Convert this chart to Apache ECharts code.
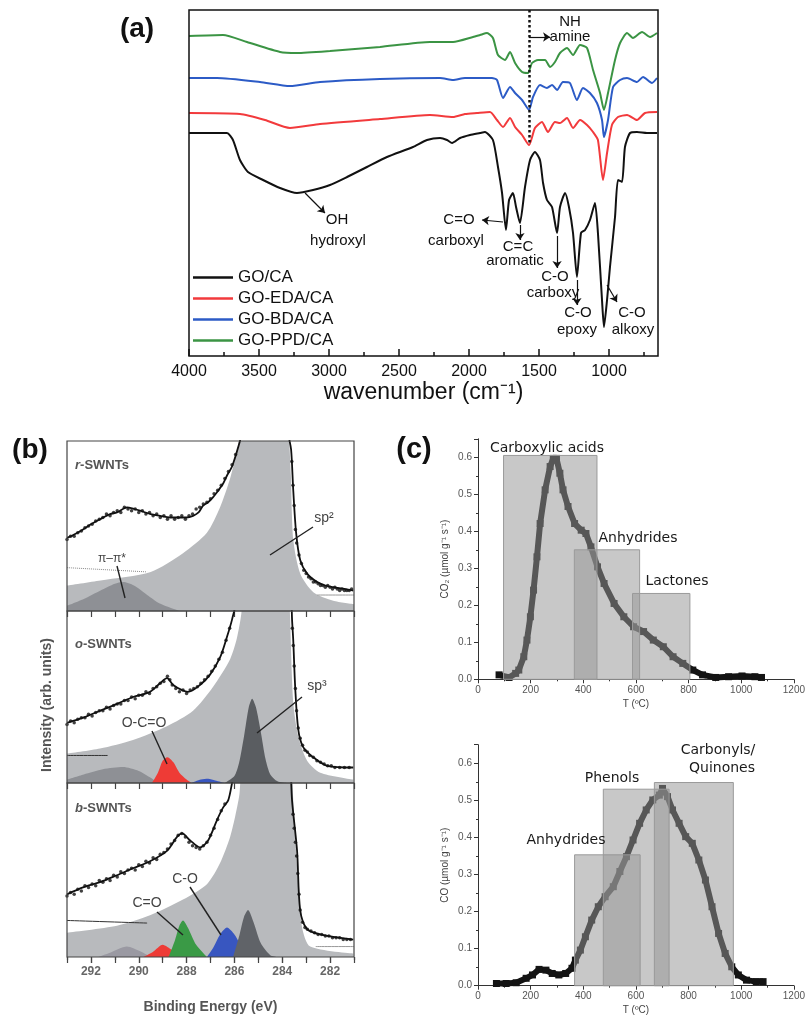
<!DOCTYPE html>
<html>
<head>
<meta charset="utf-8">
<script src="https://cdn.jsdelivr.net/npm/echarts@6/dist/echarts.min.js"></script>
<style>
html, body { margin: 0; padding: 0; background: #fff; }
#main { width: 808px; height: 1021px; }
</style>
</head>
<body>
<div id="main"></div>
<script>
// ---------- (a) FTIR spectra: [wavenumber, transmittance a.u.] ----------
var ftirNames = ['GO/CA', 'GO-EDA/CA', 'GO-BDA/CA', 'GO-PPD/CA'];
var ftirColors = ['#111111', '#f23a3c', '#2c5bc6', '#3b9444'];
var ftirMajor = [4000, 3500, 3000, 2500, 2000, 1500, 1000];
var ftirMinor = [3750, 3250, 2750, 2250, 1750, 1250, 750];

var ftirGO = [[4000,223],[3729,223],[3686,216],[3636,196],[3579,184],[3471,176],[3350,168],[3229,163],[3114,166],[2993,171],[2871,179],[2729,189],[2586,199],[2400,209],[2300,216],[2207,218],[2157,216],[2121,213],[2064,218],[1993,221],[1921,223],[1886,224],[1829,216],[1793,189],[1764,163],[1736,126],[1714,156],[1686,163],[1664,149],[1636,133],[1600,169],[1564,196],[1529,204],[1493,196],[1471,173],[1443,156],[1407,149],[1371,123],[1350,149],[1314,163],[1286,149],[1257,123],[1229,79],[1200,123],[1171,126],[1136,136],[1100,153],[1079,123],[1050,56],[1036,29],[1014,56],[993,89],[957,139],[936,176],[907,174],[886,209],[850,223],[800,224],[729,223],[657,223]];
var ftirEDA = [[4000,243],[3636,242],[3457,236],[3279,228],[3064,232],[2636,237],[2279,241],[2114,239],[2029,242],[1943,243],[1850,244],[1800,236],[1757,229],[1707,238],[1671,229],[1621,221],[1571,211],[1529,228],[1479,234],[1436,224],[1386,234],[1350,233],[1300,238],[1257,228],[1207,236],[1157,231],[1114,224],[1079,216],[1043,176],[1014,203],[979,231],[936,239],[871,241],[800,236],[743,243],[657,244]];
var ftirBDA = [[4000,278],[3800,278],[3493,274],[3279,270],[3064,274],[2636,277],[2207,278],[2114,276],[2029,278],[1836,278],[1800,276],[1757,258],[1707,269],[1671,263],[1621,256],[1571,246],[1543,259],[1493,271],[1443,268],[1407,271],[1371,266],[1329,274],[1279,273],[1229,256],[1186,268],[1136,263],[1086,253],[1050,236],[1036,219],[1007,236],[971,269],[921,276],[871,278],[800,274],[757,279],[693,273],[657,278]];
var ftirPPD = [[4000,320],[3757,321],[3586,314],[3350,304],[3229,303],[2993,305],[2636,309],[2279,314],[2114,314],[1971,319],[1921,321],[1871,323],[1829,318],[1793,301],[1743,296],[1707,304],[1671,293],[1621,284],[1579,283],[1550,293],[1507,296],[1457,296],[1421,289],[1386,294],[1350,303],[1300,308],[1257,301],[1207,311],[1157,308],[1114,286],[1064,263],[1036,246],[1007,263],[957,296],[921,313],[871,323],[829,318],[764,324],[707,319],[657,323]];
var ftirArrows = [[[3171,163],[3029,143]],[[1757,134],[1907,136]],[[1636,131],[1636,116]],[[1371,120],[1371,88]],[[1229,76],[1229,51]],[[1014,71],[943,54]],[[1571,319],[1421,319]]];
var ftirGuide = [[1571,346],[1571,211]];

// ---------- (b) XPS C1s: [binding energy eV, intensity a.u.] ----------
var xpsMajor = [282, 284, 286, 288, 290, 292];
var xpsMinor = [281, 283, 285, 287, 289, 291, 293];

var rFill = [[293,15],[291.6,18],[289.5,23],[288.15,34],[287.15,46],[286.6,61],[286.2,77],[286,88],[285.85,97],[285.76,105],[285.6,160],[284.6,400],[283.85,160],[283.72,105],[283.64,80],[283.54,42],[283.25,22],[282.7,11],[281.87,6],[281,4]];
var rPi = [[293,3],[292.3,7],[291.6,12],[291,16],[290.66,17],[290.2,15],[289.7,10],[289.2,5],[288.7,2],[288.3,0]];
var rFit = [[293,43],[292.7,45],[292.33,48],[292,51],[291.62,54],[291.2,57],[290.91,58],[290.49,61],[290.2,60],[289.95,59],[289.5,57],[289.11,56],[288.7,55],[288.4,55],[288,55],[287.73,56],[287.5,58],[287.31,62],[287.1,64],[286.89,67],[286.67,71],[286.47,75],[286.3,80],[286.1,85],[285.85,96],[285.7,105],[284.7,400],[283.75,105],[283.63,95],[283.54,71],[283.42,46],[283.25,30],[282.96,22],[282.54,17],[282.2,15],[281.87,14],[281.4,13],[281.03,12]];
var rDots = [[293,42],[292.85,44],[292.7,44],[292.55,46],[292.4,47],[292.25,49],[292.1,50],[291.95,51],[291.8,53],[291.65,54],[291.5,55],[291.35,57],[291.2,56],[291.05,58],[290.9,59],[290.75,58],[290.6,61],[290.45,60],[290.3,59],[290.15,60],[290,58],[289.85,59],[289.7,57],[289.55,58],[289.4,56],[289.25,57],[289.1,55],[288.95,56],[288.8,54],[288.65,56],[288.5,54],[288.35,55],[288.2,56],[288.05,54],[287.9,56],[287.75,57],[287.6,60],[287.45,61],[287.3,63],[287.15,64],[287,66],[286.85,69],[286.7,71],[286.55,74],[286.4,78],[286.25,82],[286.1,86],[285.95,92],[283.6,88],[283.55,74],[283.5,62],[283.45,48],[283.4,40],[283.3,33],[283.2,28],[283.1,24],[283,22],[282.9,20],[282.8,19],[282.7,17],[282.6,17],[282.5,16],[282.4,15],[282.3,15],[282.2,14],[282.1,15],[282,14],[281.9,13],[281.8,14],[281.7,13],[281.6,12],[281.5,13],[281.4,12],[281.3,12],[281.2,12],[281.1,13]];
var rBgLeft = [[293,25.5],[289.65,23]];
var rBgRight = [[282.54,9.4],[281,9.4]];

var oFill = [[293,17],[291.62,20],[290.24,25],[288.82,33],[287.73,42],[286.89,56],[286.18,72],[285.9,84],[285.7,100],[285.5,150],[284.6,400],[283.8,150],[283.67,95],[283.54,47],[283.33,27],[282.96,13],[282.41,6],[281.03,2]];
var oPi = [[293,2],[292.3,5],[291.5,8],[290.66,9.3],[290,7],[289.5,3],[289.2,0]];
var oRed = [[289.45,0],[289.2,6],[289,13],[288.8,15],[288.55,12],[288.3,6],[288,2],[287.8,0]];
var oBlue = [[287.8,0],[287.4,2],[287.1,2.5],[286.8,1.5],[286.4,0]];
var oSp3 = [[286.4,0],[286,4],[285.8,12],[285.6,27],[285.4,44],[285.26,49],[285.1,44],[284.9,30],[284.7,14],[284.5,5],[284.2,1],[283.8,0]];
var oFit = [[293,35],[292.33,38],[291.62,42],[290.91,46],[290.24,50],[289.53,53],[289.11,58],[288.82,61],[288.56,57],[288.19,54],[287.94,53],[287.44,57],[287.02,63],[286.6,73],[286.31,85],[286.1,95],[285.9,108],[284.7,400],[283.62,108],[283.59,95],[283.54,83],[283.46,56],[283.33,31],[283.13,21],[282.71,15],[282.12,10],[281.03,9]];
var oDots = [[293,34],[292.85,36],[292.7,35],[292.55,37],[292.4,38],[292.25,38],[292.1,40],[291.95,39],[291.8,41],[291.65,42],[291.5,42],[291.35,44],[291.2,43],[291.05,45],[290.9,46],[290.75,46],[290.6,48],[290.45,48],[290.3,50],[290.15,49],[290,51],[289.85,51],[289.7,53],[289.55,52],[289.4,55],[289.25,56],[289.1,58],[288.95,59],[288.8,62],[288.7,60],[288.6,57],[288.45,55],[288.3,53],[288.15,54],[288,52],[287.85,54],[287.7,55],[287.55,56],[287.4,58],[287.25,60],[287.1,62],[286.95,65],[286.8,68],[286.65,72],[286.5,76],[286.35,83],[286.2,90],[283.58,90],[283.54,80],[283.5,68],[283.45,55],[283.4,42],[283.33,32],[283.25,26],[283.15,22],[283.05,19],[282.95,18],[282.85,16],[282.7,15],[282.55,13],[282.4,12],[282.25,11],[282.1,10],[281.95,10],[281.8,9],[281.6,9],[281.4,9],[281.2,9]];
var oBgLeft = [[293,16],[291.3,16]];

var bFill = [[293,14],[290.91,18],[289.53,24],[288.15,33],[287.14,42],[286.6,54],[286.18,69],[285.95,82],[285.78,95],[285.6,150],[284.6,400],[283.7,150],[283.54,90],[283.33,42],[283.17,17],[282.83,6],[281.03,2]];
var bPi = [[291.7,0],[291.2,2.5],[290.5,6],[289.9,3],[289.5,0]];
var bRed = [[289.8,0],[289.4,3],[289,7],[288.6,4],[288,0]];
var bGreen = [[288.75,0],[288.5,9],[288.3,18],[288.15,21],[287.95,17],[287.6,7],[287.15,0]];
var bBlue = [[287.15,0],[286.9,5],[286.6,13],[286.31,17],[286,13],[285.6,4],[285.2,0]];
var bDark = [[286.05,0],[285.8,12],[285.6,23],[285.43,27],[285.2,20],[284.9,8],[284.5,1],[284.2,0]];
var bFit = [[293,36],[292.33,40],[291.62,43],[290.91,47],[290.24,51],[289.53,55],[288.82,61],[288.4,69],[288.19,71],[287.85,67],[287.44,63],[287.1,67],[286.72,79],[286.47,86],[286.26,90],[286.1,100],[285.9,115],[284.7,400],[283.65,110],[283.59,90],[283.38,61],[283.25,27],[282.96,16],[282.41,13],[281.03,10]];
var bDots = [[293,35],[292.85,37],[292.7,36],[292.55,39],[292.4,38],[292.25,41],[292.1,40],[291.95,42],[291.8,41],[291.65,44],[291.5,43],[291.35,45],[291.2,44],[291.05,47],[290.9,46],[290.75,49],[290.6,48],[290.45,50],[290.3,51],[290.15,50],[290,53],[289.85,52],[289.7,55],[289.55,54],[289.4,57],[289.25,56],[289.1,59],[288.95,60],[288.8,62],[288.65,65],[288.5,67],[288.35,70],[288.2,71],[288.05,69],[287.9,66],[287.75,64],[287.6,63],[287.45,62],[287.3,64],[287.15,66],[287,70],[286.85,74],[286.7,79],[286.55,84],[286.4,88],[283.55,82],[283.5,74],[283.45,66],[283.4,58],[283.35,48],[283.3,36],[283.25,27],[283.15,20],[283.05,17],[282.95,16],[282.8,15],[282.65,14],[282.5,13],[282.35,13],[282.2,12],[282.05,12],[281.9,11],[281.75,11],[281.6,11],[281.45,10],[281.3,10],[281.15,10]];
var bBgLeft = [[293,21],[289.65,19.5]];
var bBgRight = [[282.6,6],[281,6]];

// ---------- (c) TPD: [T °C, rate µmol g-1 s-1] ----------
var tpdCO2 = [[80,0.012],[118,0.005],[143,0.016],[155,0.025],[174,0.061],[186,0.106],[199,0.169],[211,0.241],[224,0.331],[236,0.421],[255,0.512],[274,0.575],[286,0.597],[298,0.597],[311,0.557],[323,0.512],[342,0.467],[367,0.421],[392,0.403],[410,0.394],[429,0.358],[454,0.304],[479,0.259],[517,0.205],[554,0.169],[591,0.142],[629,0.129],[666,0.106],[704,0.088],[741,0.061],[778,0.043],[816,0.025],[853,0.012],[903,0.005],[952,0.007],[1003,0.009],[1052,0.007],[1077,0.005]];
var tpdCO = [[70,0.006],[107,0.006],[145,0.008],[183,0.02],[207,0.029],[232,0.044],[258,0.042],[282,0.033],[307,0.029],[333,0.033],[357,0.047],[370,0.069],[389,0.096],[408,0.132],[432,0.177],[457,0.213],[483,0.24],[514,0.267],[539,0.308],[564,0.348],[589,0.393],[614,0.438],[639,0.474],[664,0.501],[689,0.514],[701,0.532],[720,0.51],[739,0.474],[764,0.438],[789,0.402],[814,0.384],[839,0.339],[864,0.285],[889,0.213],[914,0.141],[939,0.087],[964,0.051],[989,0.029],[1020,0.015],[1057,0.011],[1083,0.011]];
// boxes: [T from, T to, top]
var co2Boxes = [[97,452,0.605],[366,614,0.35],[587,805,0.232]];
var coBoxes = [[367,616,0.353],[476,726,0.53],[670,970,0.548]];

var chart = echarts.init(document.getElementById('main'));

function plain(v) { return String(v); }

function ftirLine(i, data) {
  return {
    name: ftirNames[i], type: 'line', xAxisIndex: 0, yAxisIndex: 0, data: data,
    showSymbol: false, smooth: 0.2, z: 3,
    lineStyle: { color: ftirColors[i], width: 2 }, itemStyle: { color: ftirColors[i] }
  };
}
function fill(xi, data, color, z) {
  return {
    type: 'line', xAxisIndex: xi, yAxisIndex: xi - 1, data: data, showSymbol: false,
    smooth: 0.25, silent: true, z: z,
    lineStyle: { width: 0, opacity: 0 }, areaStyle: { color: color, opacity: 1 }
  };
}
function trace(xi, data, color, width, type) {
  return {
    type: 'line', xAxisIndex: xi, yAxisIndex: xi - 1, data: data, showSymbol: false,
    smooth: 0.3, silent: true, z: 5,
    lineStyle: { color: color, width: width, type: type || 'solid' }
  };
}
function dots(xi, data) {
  return {
    type: 'scatter', xAxisIndex: xi, yAxisIndex: xi - 1, data: data, silent: true, z: 6,
    symbolSize: 3.5, itemStyle: { color: '#111' }
  };
}
function tpd(xi, data) {
  return {
    type: 'line', xAxisIndex: xi, yAxisIndex: xi - 3, data: data, silent: true, z: 3,
    symbol: 'rect', symbolSize: 7, showAllSymbol: true,
    lineStyle: { color: '#141414', width: 6 }, itemStyle: { color: '#141414' }
  };
}
function boxes(xi, data) {
  return {
    type: 'custom', xAxisIndex: xi, yAxisIndex: xi - 3, data: data, silent: true, z: 5,
    renderItem: function (params, api) {
      var p0 = api.coord([api.value(0), api.value(2)]);
      var p1 = api.coord([api.value(1), 0]);
      return {
        type: 'rect',
        shape: { x: p0[0], y: p0[1], width: p1[0] - p0[0], height: p1[1] - p0[1] },
        style: { fill: 'rgba(150,150,150,0.52)', stroke: '#9a9a9a', lineWidth: 1 }
      };
    }
  };
}

var arrowMark = {
  silent: true, symbol: ['none', 'arrow'], symbolSize: 7, label: { show: false },
  lineStyle: { color: '#111', width: 1.2, type: 'solid' },
  data: ftirArrows.map(function (a) { return [{ coord: a[0] }, { coord: a[1] }]; })
};
var guideMark = {
  silent: true, symbol: ['none', 'none'], label: { show: false },
  lineStyle: { color: '#111', width: 2.5, type: 'dotted' },
  data: [[{ coord: ftirGuide[0] }, { coord: ftirGuide[1] }]]
};

var goSeries = ftirLine(0, ftirGO); goSeries.markLine = arrowMark;
var edaSeries = ftirLine(1, ftirEDA); edaSeries.markLine = guideMark;

var xpsTop = function (gi) {
  return {
    gridIndex: gi, type: 'value', min: 281, max: 293, interval: 1, inverse: true, position: 'top',
    axisLine: { show: false }, splitLine: { show: false }, axisLabel: { show: false },
    axisTick: { inside: true, length: 6, lineStyle: { color: '#444', width: 1.2 } }
  };
};
var xpsY = function (gi) { return { gridIndex: gi, type: 'value', min: 0, max: 100, show: false }; };
var tpdX = function (gi) {
  return {
    gridIndex: gi, type: 'value', min: 0, max: 1200, interval: 200,
    axisLine: { lineStyle: { color: '#333', width: 1 } }, splitLine: { show: false },
    axisTick: { length: 4, lineStyle: { color: '#333' } },
    minorTick: { show: true, splitNumber: 2, length: 2, lineStyle: { color: '#333' } },
    axisLabel: { fontSize: 10, color: '#555', margin: 6, formatter: plain },
    name: 'T (ºC)', nameLocation: 'middle', nameGap: 20, nameTextStyle: { fontSize: 10, color: '#444' }
  };
};
var tpdY = function (gi, title) {
  return {
    gridIndex: gi, type: 'value', min: 0, max: 0.65, interval: 0.1,
    axisLine: { show: true, lineStyle: { color: '#333', width: 1 } }, splitLine: { show: false },
    axisTick: { show: true, length: 4, lineStyle: { color: '#333' } },
    minorTick: { show: true, splitNumber: 2, length: 2, lineStyle: { color: '#333' } },
    axisLabel: { fontSize: 10, color: '#555', margin: 6,
      formatter: function (v) { return v > 0.61 ? '' : v.toFixed(1); } },
    name: title, nameLocation: 'middle', nameGap: 28, nameRotate: 90,
    nameTextStyle: { fontSize: 10, color: '#444' }
  };
};

function txt(x, y, s, size, extra) {
  var style = { text: s, x: 0, y: 0, fontSize: size, fontFamily: '"Liberation Sans", Arial, sans-serif',
    fill: '#111', align: 'center', verticalAlign: 'middle' };
  for (var k in extra) style[k] = extra[k];
  return { type: 'text', x: x, y: y, z: 20, style: style };
}
function seg(x1, y1, x2, y2, color) {
  return { type: 'line', z: 20, shape: { x1: x1, y1: y1, x2: x2, y2: y2 },
    style: { stroke: color || '#222', lineWidth: 1.4 } };
}
var comic = { fontFamily: '"DejaVu Sans", sans-serif', fill: '#1a1a1a' };
var italicRich = { i: { fontStyle: 'italic', fontWeight: 'bold', fontSize: 13, fill: '#555' } };

var option = {
  animation: false,
  backgroundColor: '#ffffff',
  textStyle: { fontFamily: '"Liberation Sans", Arial, sans-serif' },
  legend: {
    data: ftirNames, orient: 'vertical', left: 193, top: 269, padding: 0,
    icon: 'rect', itemWidth: 40, itemHeight: 2.5, itemGap: 4,
    textStyle: { fontSize: 17, color: '#111' }
  },
  grid: [
    { left: 189, top: 10, width: 469, height: 346, show: true, borderColor: '#111', borderWidth: 1.5, backgroundColor: 'transparent', z: 10 },
    { left: 67, top: 441, width: 287, height: 170, show: true, borderColor: '#444', borderWidth: 1.2, backgroundColor: 'transparent', z: 10 },
    { left: 67, top: 611, width: 287, height: 172, show: true, borderColor: '#444', borderWidth: 1.2, backgroundColor: 'transparent', z: 10 },
    { left: 67, top: 783, width: 287, height: 174, show: true, borderColor: '#444', borderWidth: 1.2, backgroundColor: 'transparent', z: 10 },
    { left: 478, top: 438.8, width: 321, height: 240.5 },
    { left: 478, top: 744.7, width: 320, height: 241 }
  ],
  xAxis: [
    { gridIndex: 0, type: 'value', min: 650, max: 4000, inverse: true, position: 'bottom',
      axisLine: { show: false }, splitLine: { show: false },
      axisTick: { inside: true, length: 7, customValues: ftirMajor, lineStyle: { color: '#111', width: 1.5 } },
      axisLabel: { customValues: ftirMajor, fontSize: 16, color: '#111', margin: 8, formatter: plain },
      name: 'wavenumber (cm⁻¹)', nameLocation: 'middle', nameGap: 20,
      nameTextStyle: { fontSize: 23, color: '#111' } },
    { gridIndex: 0, type: 'value', min: 650, max: 4000, inverse: true, position: 'bottom',
      axisLine: { show: false }, splitLine: { show: false }, axisLabel: { show: false },
      axisTick: { inside: true, length: 4, customValues: ftirMinor, lineStyle: { color: '#111', width: 1.5 } } },
    xpsTop(1), xpsTop(2), xpsTop(3),
    { gridIndex: 3, type: 'value', min: 281, max: 293, inverse: true, position: 'bottom',
      axisLine: { show: false }, splitLine: { show: false },
      axisTick: { length: 6, customValues: xpsMajor, lineStyle: { color: '#444', width: 1.2 } },
      axisLabel: { customValues: xpsMajor, fontSize: 12, fontWeight: 'bold', color: '#666', margin: 9, formatter: plain },
      name: 'Binding Energy (eV)', nameLocation: 'middle', nameGap: 43,
      nameTextStyle: { fontSize: 14, fontWeight: 'bold', color: '#555' } },
    { gridIndex: 3, type: 'value', min: 281, max: 293, inverse: true, position: 'bottom',
      axisLine: { show: false }, splitLine: { show: false }, axisLabel: { show: false },
      axisTick: { length: 3, customValues: xpsMinor, lineStyle: { color: '#444', width: 1.2 } } },
    tpdX(4), tpdX(5)
  ],
  yAxis: [
    { gridIndex: 0, type: 'value', min: 0, max: 346, show: false },
    xpsY(1), xpsY(2), xpsY(3),
    tpdY(4, 'CO₂ (µmol g⁻¹ s⁻¹)'),
    tpdY(5, 'CO (µmol g⁻¹ s⁻¹)')
  ],
  series: [
    goSeries, edaSeries, ftirLine(2, ftirBDA), ftirLine(3, ftirPPD),
    // r-SWNTs
    fill(2, rFill, '#b8babd', 1), fill(2, rPi, '#8e9095', 3),
    trace(2, rBgLeft, '#888', 1, 'dotted'), trace(2, rBgRight, '#999', 1),
    trace(2, rFit, '#111', 1.8), dots(2, rDots),
    // o-SWNTs
    fill(3, oFill, '#b8babd', 1), fill(3, oPi, '#8e9095', 3), fill(3, oRed, '#ee3b36', 3),
    fill(3, oBlue, '#3856c0', 3), fill(3, oSp3, '#5a5d61', 3),
    trace(3, oBgLeft, '#333', 1), trace(3, oFit, '#111', 1.8), dots(3, oDots),
    // b-SWNTs
    fill(4, bFill, '#b8babd', 1), fill(4, bPi, '#9a99a2', 3), fill(4, bRed, '#ee3b36', 3),
    fill(4, bGreen, '#3a9a46', 3), fill(4, bBlue, '#3856c0', 3), fill(4, bDark, '#606368', 3),
    trace(4, bBgLeft, '#333', 1), trace(4, bBgRight, '#999', 1),
    trace(4, bFit, '#111', 1.8), dots(4, bDots),
    // TPD
    tpd(7, tpdCO2), boxes(7, co2Boxes),
    tpd(8, tpdCO), boxes(8, coBoxes)
  ],
  graphic: [
    txt(137, 29, '(a)', 28, { fontWeight: 'bold' }),
    txt(30, 450, '(b)', 28, { fontWeight: 'bold' }),
    txt(414, 450, '(c)', 29, { fontWeight: 'bold' }),
    // (a) annotations
    txt(337, 220, 'OH', 15), txt(338, 241, 'hydroxyl', 15),
    txt(459, 220, 'C=O', 15), txt(456, 241, 'carboxyl', 15),
    txt(518, 247, 'C=C', 15), txt(515, 261, 'aromatic', 15),
    txt(555, 277, 'C-O', 15), txt(553, 293, 'carboxy', 15),
    txt(578, 313, 'C-O', 15), txt(577, 330, 'epoxy', 15),
    txt(632, 313, 'C-O', 15), txt(633, 330, 'alkoxy', 15),
    txt(570, 22, 'NH', 15), txt(570, 37, 'amine', 15),
    // (b) annotations
    txt(75, 465, '{i|r}-SWNTs', 13, { align: 'left', fill: '#555', fontWeight: 'bold', rich: italicRich }),
    txt(75, 644, '{i|o}-SWNTs', 13, { align: 'left', fill: '#555', fontWeight: 'bold', rich: italicRich }),
    txt(75, 808, '{i|b}-SWNTs', 13, { align: 'left', fill: '#555', fontWeight: 'bold', rich: italicRich }),
    txt(324, 518, 'sp²', 14, { fill: '#444' }), seg(270, 555, 313, 527),
    txt(112, 559, 'π–π*', 12, { fill: '#444' }), seg(117, 566, 125, 598),
    txt(144, 723, 'O-C=O', 14, { fill: '#444' }), seg(152, 731, 167, 764),
    txt(317, 686, 'sp³', 14, { fill: '#444' }), seg(257, 733, 302, 697),
    txt(147, 903, 'C=O', 14, { fill: '#444' }), seg(157, 912, 183, 935),
    txt(185, 879, 'C-O', 14, { fill: '#444' }), seg(190, 887, 221, 935),
    { type: 'text', x: 47, y: 705, rotation: Math.PI / 2, z: 20,
      style: { text: 'Intensity (arb. units)', fontSize: 14, fontWeight: 'bold', fill: '#555',
        fontFamily: '"Liberation Sans", Arial, sans-serif', align: 'center', verticalAlign: 'middle' } },
    // (c) annotations
    txt(547, 448, 'Carboxylic acids', 14, comic),
    txt(638, 538, 'Anhydrides', 14, comic),
    txt(677, 581, 'Lactones', 14, comic),
    txt(718, 750, 'Carbonyls/', 14, comic),
    txt(722, 768, 'Quinones', 14, comic),
    txt(612, 778, 'Phenols', 14, comic),
    txt(566, 840, 'Anhydrides', 14, comic)
  ]
};

chart.setOption(option);
</script>
</body>
</html>
